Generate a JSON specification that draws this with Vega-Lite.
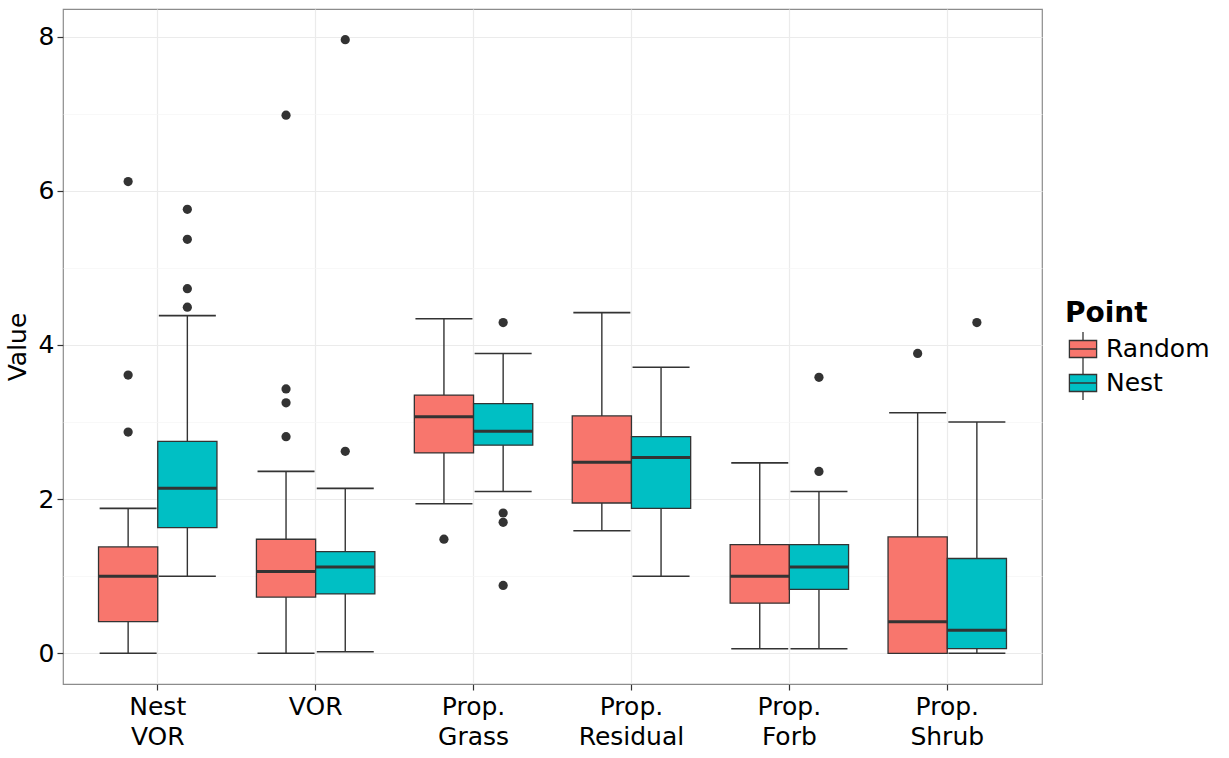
{
  "$schema": "https://vega.github.io/schema/vega-lite/v6.json",
  "autosize": {"type": "none"},
  "width": 979,
  "height": 675,
  "padding": {"left": 63, "top": 9, "right": 187, "bottom": 74},
  "background": "white",
  "config": {
    "font": "DejaVu Sans",
    "view": {"stroke": "#8c8c8c", "strokeWidth": 1.2}
  },
  "datasets": {
    "boxes": [
      {"cat": "Nest VOR", "Point": "Random", "lo": 0.0, "q1": 0.41, "med": 1.00, "q3": 1.38, "hi": 1.88},
      {"cat": "Nest VOR", "Point": "Nest", "lo": 1.00, "q1": 1.63, "med": 2.14, "q3": 2.75, "hi": 4.38},
      {"cat": "VOR", "Point": "Random", "lo": 0.0, "q1": 0.73, "med": 1.06, "q3": 1.48, "hi": 2.36},
      {"cat": "VOR", "Point": "Nest", "lo": 0.02, "q1": 0.77, "med": 1.12, "q3": 1.32, "hi": 2.14},
      {"cat": "Prop. Grass", "Point": "Random", "lo": 1.94, "q1": 2.60, "med": 3.07, "q3": 3.35, "hi": 4.34},
      {"cat": "Prop. Grass", "Point": "Nest", "lo": 2.10, "q1": 2.70, "med": 2.88, "q3": 3.24, "hi": 3.89},
      {"cat": "Prop. Residual", "Point": "Random", "lo": 1.59, "q1": 1.95, "med": 2.48, "q3": 3.08, "hi": 4.42},
      {"cat": "Prop. Residual", "Point": "Nest", "lo": 1.00, "q1": 1.88, "med": 2.54, "q3": 2.81, "hi": 3.71},
      {"cat": "Prop. Forb", "Point": "Random", "lo": 0.06, "q1": 0.65, "med": 1.00, "q3": 1.41, "hi": 2.47},
      {"cat": "Prop. Forb", "Point": "Nest", "lo": 0.06, "q1": 0.83, "med": 1.12, "q3": 1.41, "hi": 2.10},
      {"cat": "Prop. Shrub", "Point": "Random", "lo": 0.0, "q1": 0.0, "med": 0.41, "q3": 1.51, "hi": 3.12},
      {"cat": "Prop. Shrub", "Point": "Nest", "lo": 0.0, "q1": 0.06, "med": 0.30, "q3": 1.23, "hi": 3.00}
    ],
    "outliers": [
      {"cat": "Nest VOR", "Point": "Random", "value": 2.87},
      {"cat": "Nest VOR", "Point": "Random", "value": 3.61},
      {"cat": "Nest VOR", "Point": "Random", "value": 6.12},
      {"cat": "Nest VOR", "Point": "Nest", "value": 4.49},
      {"cat": "Nest VOR", "Point": "Nest", "value": 4.73},
      {"cat": "Nest VOR", "Point": "Nest", "value": 5.37},
      {"cat": "Nest VOR", "Point": "Nest", "value": 5.76},
      {"cat": "VOR", "Point": "Random", "value": 2.81},
      {"cat": "VOR", "Point": "Random", "value": 3.25},
      {"cat": "VOR", "Point": "Random", "value": 3.43},
      {"cat": "VOR", "Point": "Random", "value": 6.98},
      {"cat": "VOR", "Point": "Nest", "value": 2.62},
      {"cat": "VOR", "Point": "Nest", "value": 7.96},
      {"cat": "Prop. Grass", "Point": "Random", "value": 1.48},
      {"cat": "Prop. Grass", "Point": "Nest", "value": 0.88},
      {"cat": "Prop. Grass", "Point": "Nest", "value": 1.70},
      {"cat": "Prop. Grass", "Point": "Nest", "value": 1.82},
      {"cat": "Prop. Grass", "Point": "Nest", "value": 4.29},
      {"cat": "Prop. Forb", "Point": "Nest", "value": 2.36},
      {"cat": "Prop. Forb", "Point": "Nest", "value": 3.58},
      {"cat": "Prop. Shrub", "Point": "Random", "value": 3.89},
      {"cat": "Prop. Shrub", "Point": "Nest", "value": 4.29}
    ]
  },
  "encoding": {
    "x": {
      "field": "cat", "type": "nominal",
      "sort": ["Nest VOR", "VOR", "Prop. Grass", "Prop. Residual", "Prop. Forb", "Prop. Shrub"],
      "scale": {"paddingInner": 0.25, "paddingOuter": 0.225},
      "axis": {
        "title": null, "labelAngle": 0, "domain": false,
        "bandPosition": 0.5,
        "labelExpr": "split(datum.label, ' ')",
        "labelFontSize": 25, "labelColor": "#000000", "labelLineHeight": 30,
        "labelPadding": 4, "tickColor": "#333333", "tickSize": 6, "tickWidth": 1.2,
        "grid": true, "gridColor": "#EBEBEB", "gridWidth": 1.2
      }
    },
    "xOffset": {
      "field": "Point", "type": "nominal",
      "sort": ["Random", "Nest"],
      "scale": {"domain": ["Random", "Nest"], "paddingInner": 0, "paddingOuter": 0}
    }
  },
  "layer": [
    {
      "data": {"name": "boxes"},
      "mark": {"type": "rule", "color": "#333333", "strokeWidth": 1.4},
      "encoding": {
        "y": {
          "field": "lo", "type": "quantitative",
          "scale": {"domain": [-0.398, 8.358], "nice": false, "zero": false},
          "axis": {
            "title": "Value", "titleFontSize": 25, "titleFontWeight": "normal", "titleColor": "#000000",
            "titlePadding": 8,
            "values": [0, 1, 2, 3, 4, 5, 6, 7, 8],
            "format": "d",
            "labelExpr": "datum.value % 2 === 0 ? datum.label : ''",
            "labelFontSize": 25, "labelColor": "#000000", "labelPadding": 3,
            "domain": false, "tickSize": 6,
            "tickColor": {"condition": {"test": "datum.value % 2 === 0", "value": "#333333"}, "value": "transparent"},
            "tickWidth": 1.2,
            "grid": true,
            "gridColor": {"condition": {"test": "datum.value % 2 === 0", "value": "#EBEBEB"}, "value": "#F5F5F5"},
            "gridWidth": {"condition": {"test": "datum.value % 2 === 0", "value": 1.2}, "value": 0.7}
          }
        },
        "y2": {"field": "hi"}
      }
    },
    {
      "data": {"name": "boxes"},
      "mark": {"type": "tick", "color": "#333333", "thickness": 1.6, "size": 57, "opacity": 1},
      "encoding": {"y": {"field": "lo", "type": "quantitative"}}
    },
    {
      "data": {"name": "boxes"},
      "mark": {"type": "tick", "color": "#333333", "thickness": 1.6, "size": 57, "opacity": 1},
      "encoding": {"y": {"field": "hi", "type": "quantitative"}}
    },
    {
      "data": {"name": "boxes"},
      "mark": {"type": "bar", "stroke": "#333333", "strokeWidth": 1.3, "opacity": 1},
      "encoding": {
        "y": {"field": "q1", "type": "quantitative"},
        "y2": {"field": "q3"},
        "fill": {
          "field": "Point", "type": "nominal",
          "scale": {"domain": ["Random", "Nest"], "range": ["#F8766D", "#00BFC4"]},
          "legend": {
            "orient": "none", "legendX": 1002, "legendY": 291,
            "title": "Point", "titleFontSize": 28, "titleFontWeight": "bold", "titleColor": "#000000",
            "titlePadding": 4,
            "labelFontSize": 25, "labelColor": "#000000", "labelOffset": 5,
            "symbolType": "M-0.8,-0.5L0.8,-0.5L0.8,0.5L-0.8,0.5Z M-0.8,0L0.8,0 M0,-1L0,-0.5 M0,0.5L0,1",
            "symbolSize": 1156, "symbolStrokeColor": "#333333", "symbolStrokeWidth": 1.3,
            "rowPadding": 0, "clipHeight": 34
          }
        }
      }
    },
    {
      "data": {"name": "boxes"},
      "mark": {"type": "tick", "color": "#333333", "thickness": 3, "size": 59, "opacity": 1},
      "encoding": {"y": {"field": "med", "type": "quantitative"}}
    },
    {
      "data": {"name": "outliers"},
      "mark": {"type": "point", "filled": true, "color": "#333333", "size": 85, "opacity": 1},
      "encoding": {"y": {"field": "value", "type": "quantitative"}}
    }
  ]
}
